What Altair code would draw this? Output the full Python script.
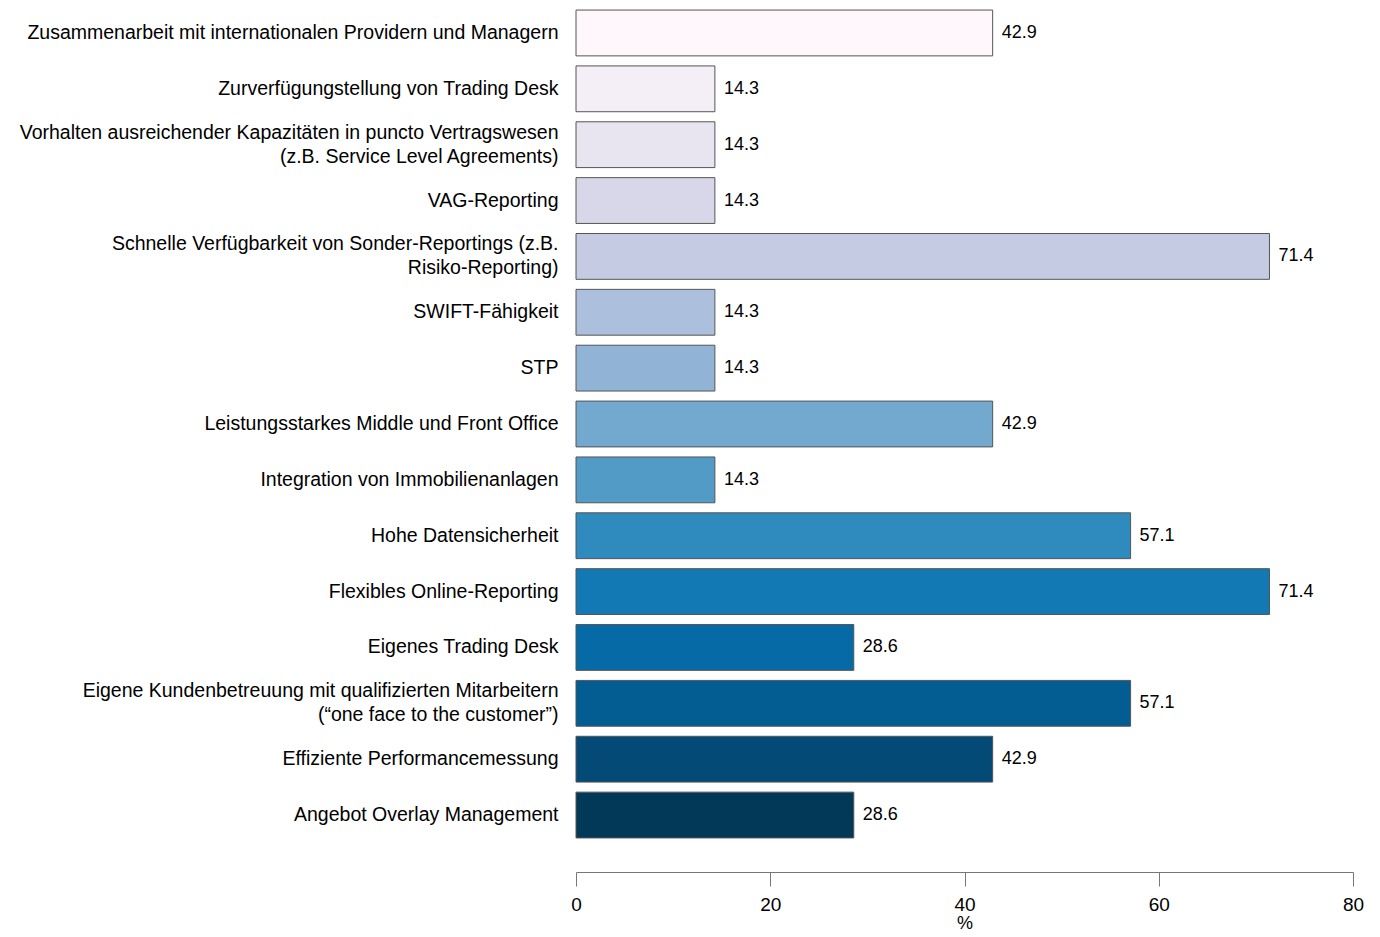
import altair as alt
import pandas as pd

categories = [
    "Zusammenarbeit mit internationalen Providern und Managern",
    "Zurverfügungstellung von Trading Desk",
    "Vorhalten ausreichender Kapazitäten in puncto Vertragswesen \n(z.B. Service Level Agreements)",
    "VAG-Reporting",
    "Schnelle Verfügbarkeit von Sonder-Reportings (z.B. \nRisiko-Reporting)",
    "SWIFT-Fähigkeit",
    "STP",
    "Leistungsstarkes Middle und Front Office",
    "Integration von Immobilienanlagen",
    "Hohe Datensicherheit",
    "Flexibles Online-Reporting",
    "Eigenes Trading Desk",
    "Eigene Kundenbetreuung mit qualifizierten Mitarbeitern \n(“one face to the customer”)",
    "Effiziente Performancemessung",
    "Angebot Overlay Management",
]
values = [42.9, 14.3, 14.3, 14.3, 71.4, 14.3, 14.3, 42.9, 14.3, 57.1, 71.4, 28.6, 57.1, 42.9, 28.6]
x_ticks = [0, 20, 40, 60, 80]

palette = [
    "#fff7fb", "#f4eef6", "#e8e4f0", "#d8d7e9", "#c4cbe3",
    "#acc0dd", "#91b4d6", "#74a9cf", "#519bc6", "#2f8bbe",
    "#1379b5", "#056aa6", "#045d92", "#034b76", "#023858",
]

df = pd.DataFrame({"category": categories, "value": values})

FONT = "Liberation Sans"

y_enc = alt.Y(
    "category:N",
    sort=categories,
    scale=alt.Scale(paddingInner=0.18, paddingOuter=0.18),
    axis=alt.Axis(
        title=None,
        domain=False,
        ticks=False,
        labelFont=FONT,
        labelFontSize=19.5,
        labelColor="#000000",
        labelPadding=18,
        labelLimit=700,
        labelLineHeight=24,
        labelExpr="split(datum.value, '\\n')",
        labelOffset={
            "condition": {"test": "indexof(datum.value, '\\n') >= 0", "value": -12},
            "value": 0,
        },
    ),
)

x_enc = alt.X(
    "value:Q",
    scale=alt.Scale(domain=[0, 80], nice=False, zero=True),
    axis=alt.Axis(
        title="%",
        values=x_ticks,
        grid=False,
        offset=24,
        domainColor="#777777",
        tickColor="#777777",
        tickSize=14,
        labelFlush=False,
        labelFont=FONT,
        labelFontSize=19,
        labelColor="#000000",
        labelPadding=9,
        titleFont=FONT,
        titleFontSize=18,
        titleFontWeight="normal",
        titleColor="#000000",
        titlePadding=0,
    ),
)

bars = alt.Chart(df).mark_bar(stroke="#555555", strokeWidth=1).encode(
    y=y_enc,
    x=x_enc,
    color=alt.Color("category:N", scale=alt.Scale(domain=categories, range=palette), legend=None),
)

labels = alt.Chart(df).mark_text(
    align="left", baseline="middle", dx=9, font=FONT, fontSize=18, color="#000000"
).encode(
    y=alt.Y("category:N", sort=categories),
    x=alt.X("value:Q"),
    text=alt.Text("value:Q", format=".1f"),
)

chart = (
    alt.layer(bars, labels)
    .properties(
        width=777,
        height=848,
        background="#ffffff",
        autosize=alt.AutoSizeParams(type="none"),
        padding={"left": 576, "top": 0, "right": 27, "bottom": 89},
    )
    .configure_view(strokeWidth=0, stroke="transparent")
)

chart.save("out.html", embed_options={"renderer": "svg", "actions": False})
